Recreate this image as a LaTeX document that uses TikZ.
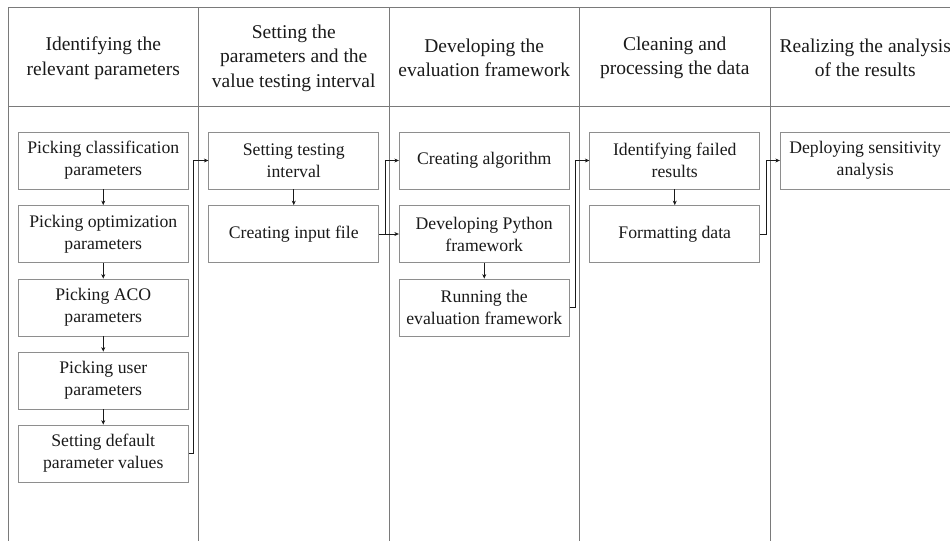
\documentclass[tikz,border=0pt]{standalone}
\usepackage{fontspec}
\setmainfont{Liberation Serif}
\usetikzlibrary{arrows.meta}
\definecolor{ink}{HTML}{1A1A1A}
\definecolor{rule}{HTML}{7A7A7A}
\definecolor{frame}{HTML}{8E8E8E}
\begin{document}
\begin{tikzpicture}[x=1pt,y=-1pt,
  stepbox/.style={draw=frame,line width=0.8pt,minimum width=170pt,minimum height=57pt,
    inner sep=0pt,align=center,text=ink,font=\fontsize{17.7}{22}\selectfont},
  headtext/.style={align=center,text=ink,font=\fontsize{19.5}{24.5}\selectfont},
  divider/.style={draw=rule,line width=0.8pt},
  flow/.style={draw=ink,line width=0.6pt,-{Stealth[length=4.5pt,width=4pt]}}]
\useasboundingbox (0,0) rectangle (950,541);
\clip (0,0) rectangle (950,541);
% lane grid
\draw[divider] (950,7) -- (8,7) -- (8,541);
\draw[divider] (8,106) -- (950,106);
\foreach \x in {198.5,389,579.5,770}
  \draw[divider] (\x,7) -- (\x,541);
% lane headings
\node[headtext] (h1) at (103.25,58) {Identifying the\\relevant parameters};
\node[headtext] (h2) at (293.75,58) {Setting the\\parameters and the\\value testing interval};
\node[headtext] (h3) at (484.25,58) {Developing the\\evaluation framework};
\node[headtext] (h4) at (674.75,58) {Cleaning and\\processing the data};
\node[headtext] (h5) at (865.25,58) {Realizing the analysis\\of the results};
% lane 1
\node[stepbox] (a1) at (103.25,160.5) {Picking classification\\parameters};
\node[stepbox] (a2) at (103.25,234) {Picking optimization\\parameters};
\node[stepbox] (a3) at (103.25,307.5) {Picking ACO\\parameters};
\node[stepbox] (a4) at (103.25,380.5) {Picking user\\parameters};
\node[stepbox] (a5) at (103.25,453.5) {Setting default\\parameter values};
% lane 2
\node[stepbox] (b1) at (293.75,160.5) {Setting testing\\interval};
\node[stepbox] (b2) at (293.75,234) {Creating input file};
% lane 3
\node[stepbox] (c1) at (484.25,160.5) {Creating algorithm};
\node[stepbox] (c2) at (484.25,234) {Developing Python\\framework};
\node[stepbox] (c3) at (484.25,307.5) {Running the\\evaluation framework};
% lane 4
\node[stepbox] (d1) at (674.75,160.5) {Identifying failed\\results};
\node[stepbox] (d2) at (674.75,234) {Formatting data};
% lane 5
\node[stepbox] (e1) at (865.25,160.5) {Deploying sensitivity\\analysis};
% flow inside lanes
\draw[flow] (a1) -- (a2);
\draw[flow] (a2) -- (a3);
\draw[flow] (a3) -- (a4);
\draw[flow] (a4) -- (a5);
\draw[flow] (b1) -- (b2);
\draw[flow] (c2) -- (c3);
\draw[flow] (d1) -- (d2);
% flow between lanes
\draw[flow] (a5.east) -- ++(5,0) |- (b1.west);
\draw[flow] (b2.east) -- ++(6,0) |- (c1.west);
\draw[flow] (b2.east) -- (c2.west);
\draw[flow] (c3.east) -- ++(6,0) |- (d1.west);
\draw[flow] (d2.east) -- ++(6,0) |- (e1.west);
\end{tikzpicture}
\end{document}
